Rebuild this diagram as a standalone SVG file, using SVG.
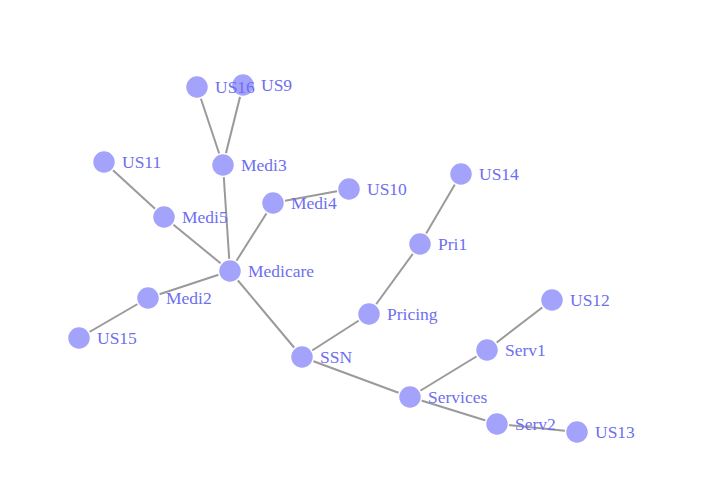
<svg xmlns="http://www.w3.org/2000/svg" width="701" height="499" viewBox="0 0 701 499">
<style>
.link{stroke:#9a9a9a;stroke-width:2;fill:none}
.node circle{fill:#a3a3fb;stroke:#ffffff;stroke-width:1.5}
.node text{font-family:"Liberation Serif","Times New Roman",serif;font-size:17.5px;fill:#6e6ef0}
</style>
<rect width="701" height="499" fill="#ffffff"/>
<g id="links">
<line class="link" x1="230" y1="271" x2="164" y2="217"/>
<line class="link" x1="164" y1="217" x2="104" y2="162"/>
<line class="link" x1="230" y1="271" x2="223" y2="165"/>
<line class="link" x1="223" y1="165" x2="197" y2="87"/>
<line class="link" x1="223" y1="165" x2="243" y2="85"/>
<line class="link" x1="230" y1="271" x2="273" y2="203"/>
<line class="link" x1="273" y1="203" x2="349" y2="189"/>
<line class="link" x1="230" y1="271" x2="148" y2="298"/>
<line class="link" x1="148" y1="298" x2="79" y2="338"/>
<line class="link" x1="230" y1="271" x2="302" y2="357"/>
<line class="link" x1="302" y1="357" x2="369" y2="314"/>
<line class="link" x1="369" y1="314" x2="420" y2="244"/>
<line class="link" x1="420" y1="244" x2="461" y2="174"/>
<line class="link" x1="302" y1="357" x2="410" y2="397"/>
<line class="link" x1="410" y1="397" x2="487" y2="350"/>
<line class="link" x1="487" y1="350" x2="552" y2="300"/>
<line class="link" x1="410" y1="397" x2="497" y2="424"/>
<line class="link" x1="497" y1="424" x2="577" y2="432"/>
</g>
<g id="node-US9" class="node"><circle cx="243" cy="85" r="11.5"/><text x="261" y="91.3">US9</text></g>
<g id="node-US16" class="node"><circle cx="197" cy="87" r="11.5"/><text x="215" y="93.3">US16</text></g>
<g id="node-Medi3" class="node"><circle cx="223" cy="165" r="11.5"/><text x="241" y="171.3">Medi3</text></g>
<g id="node-US11" class="node"><circle cx="104" cy="162" r="11.5"/><text x="122" y="168.3">US11</text></g>
<g id="node-Medi5" class="node"><circle cx="164" cy="217" r="11.5"/><text x="182" y="223.3">Medi5</text></g>
<g id="node-Medi4" class="node"><circle cx="273" cy="203" r="11.5"/><text x="291" y="209.3">Medi4</text></g>
<g id="node-US10" class="node"><circle cx="349" cy="189" r="11.5"/><text x="367" y="195.3">US10</text></g>
<g id="node-Medicare" class="node"><circle cx="230" cy="271" r="11.5"/><text x="248" y="277.3">Medicare</text></g>
<g id="node-Medi2" class="node"><circle cx="148" cy="298" r="11.5"/><text x="166" y="304.3">Medi2</text></g>
<g id="node-US15" class="node"><circle cx="79" cy="338" r="11.5"/><text x="97" y="344.3">US15</text></g>
<g id="node-SSN" class="node"><circle cx="302" cy="357" r="11.5"/><text x="320" y="363.3">SSN</text></g>
<g id="node-Pricing" class="node"><circle cx="369" cy="314" r="11.5"/><text x="387" y="320.3">Pricing</text></g>
<g id="node-Pri1" class="node"><circle cx="420" cy="244" r="11.5"/><text x="438" y="250.3">Pri1</text></g>
<g id="node-US14" class="node"><circle cx="461" cy="174" r="11.5"/><text x="479" y="180.3">US14</text></g>
<g id="node-Services" class="node"><circle cx="410" cy="397" r="11.5"/><text x="428" y="403.3">Services</text></g>
<g id="node-Serv1" class="node"><circle cx="487" cy="350" r="11.5"/><text x="505" y="356.3">Serv1</text></g>
<g id="node-US12" class="node"><circle cx="552" cy="300" r="11.5"/><text x="570" y="306.3">US12</text></g>
<g id="node-Serv2" class="node"><circle cx="497" cy="424" r="11.5"/><text x="515" y="430.3">Serv2</text></g>
<g id="node-US13" class="node"><circle cx="577" cy="432" r="11.5"/><text x="595" y="438.3">US13</text></g>
</svg>
